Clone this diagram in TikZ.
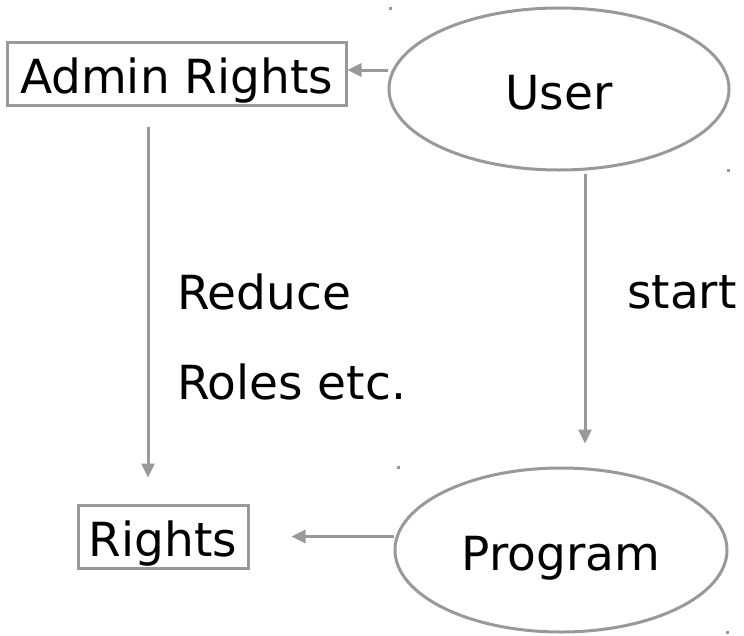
\documentclass[tikz,border=0pt]{standalone}
\usepackage{fontspec}
\setmainfont{DejaVu Sans}
\usetikzlibrary{shapes.geometric,arrows.meta}
\tikzset{
  linegray/.style={draw=black!40, line width=3pt},
  flowline/.style={linegray, -{Triangle[length=14pt,width=13pt]}},
  rightbox/.style={linegray, rectangle, inner sep=0pt, minimum height=63pt, text height=40pt, text depth=0pt},
  roleell/.style={linegray, ellipse, inner sep=0pt, text height=40pt, text depth=0pt},
  plaintext/.style={inner sep=0pt, anchor=west},
  cornerdot/.style={fill=black!40, minimum size=3pt, inner sep=0pt}
}
\begin{document}
\begin{tikzpicture}[x=1pt, y=-1pt, font=\fontsize{47}{56}\selectfont]
\useasboundingbox (0,0) rectangle (744,635);
% boxes and ellipses
\node[rightbox, minimum width=339pt] (admin) at (176.5,73.5) {Admin Rights};
\node[roleell, minimum width=340pt, minimum height=162pt] (user) at (559,89) {User};
\node[rightbox, minimum width=170pt] (rights) at (163,536.5) {Rights};
\node[roleell, minimum width=332pt, minimum height=164pt] (program) at (561,550) {Program};
% labels
\node[plaintext] (reduce) at (177,292) {Reduce};
\node[plaintext] (roles) at (177,382) {Roles etc.};
\node[plaintext] (start) at (627,292) {start};
% small marks
\foreach \x/\y in {390/8, 728/170, 398/467, 727/632}
	{\node[cornerdot] at (\x,\y) {};}
% arrows
\draw[flowline] ([yshift=3.5pt]admin.east -| user.west) -- ([yshift=3.5pt]admin.east);
\draw[flowline, shorten <=20pt, shorten >=26pt] ([xshift=-28.5pt]admin.south) -- ([xshift=-15pt]rights.north);
\draw[flowline, shorten <=2pt, shorten >=23pt] ([xshift=26pt]user.south) -- ([xshift=24pt]program.north);
\draw[flowline, shorten >=42pt] (program.west |- rights.east) -- (rights.east);
\end{tikzpicture}
\end{document}
